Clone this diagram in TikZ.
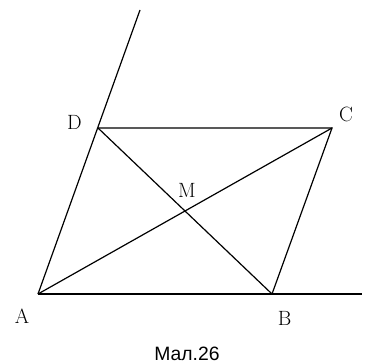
\documentclass[tikz,border=0pt]{standalone}
\usepackage{fontspec}
\newfontfamily\capfont{Liberation Sans}
\begin{document}
\begin{tikzpicture}[x=0.75pt,y=-0.75pt,line width=0.9pt]
  \tikzstyle{vertexlabel}=[inner sep=0pt,font=\fontsize{15.5}{15.5}\selectfont]
  \useasboundingbox (0,0) rectangle (366,363);

  % vertices of the parallelogram and the free ends of the two lines
  \foreach \name/\x/\y in {A/38/294, B/272/294, C/332/128, D/98/128, M/185/211, E/362/294, F/140/10}
    \coordinate (\name) at (\x,\y);

  \draw (A) -- (E);
  \draw (A) -- (F);
  \draw (D) -- (C) -- (B);
  \draw (A) -- (C);
  \draw (D) -- (B);

  \foreach \name/\x/\y in {A/22/316, B/284.5/318, C/346/114.5, D/74.5/122.5, M/187/190.5}
    \node[vertexlabel] (L-\name) at (\x,\y) {\name};

  \node[inner sep=0pt,font=\capfont\fontsize{14.5}{15}\selectfont] (caption) at (187,354) {Мал.26};
\end{tikzpicture}
\end{document}
